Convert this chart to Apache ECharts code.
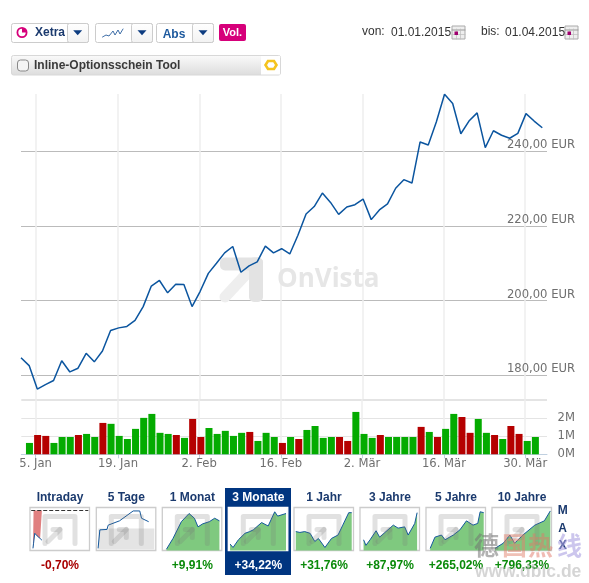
<!DOCTYPE html>
<html>
<head>
<meta charset="utf-8">
<style>html,body{margin:0;padding:0;background:#fff}#chart{width:589px;height:583px}</style>
<script src="https://cdn.jsdelivr.net/npm/echarts@6/dist/echarts.min.js"></script>
</head>
<body>
<div id="chart"></div>
<script>
// Kursverlauf, ein Wert pro Handelstag
var prices = [184.7,182.6,176.3,177.5,178.6,183.9,180.9,181.9,185.9,183.6,186.5,192.0,192.7,193.1,194.7,198.4,203.9,205.4,202.1,204.4,204.3,198.4,202.5,207.3,210.0,212.8,214.5,207.6,209.3,210.4,214.6,212.8,213.9,212.5,217.5,223.2,225.2,228.8,226.3,223.1,225.1,225.7,227.2,221.7,224.3,225.9,230.1,232.4,231.5,242.5,241.7,247.9,255.3,252.8,244.7,248.1,250.3,241.0,245.5,244.3,243.5,244.8,250.1,248.1,246.3];
// Umsatz in Mio, ab dem zweiten Handelstag
var volumes = [0.63,1.07,1.02,0.63,0.96,0.96,1.07,1.13,0.96,1.74,1.69,1.02,0.85,1.41,2.02,2.24,1.19,1.13,1.07,0.91,1.96,0.96,1.46,1.13,1.30,1.02,1.19,1.24,0.74,1.19,0.96,0.63,0.96,0.85,1.35,1.57,0.91,0.96,0.96,0.74,2.35,1.13,0.91,1.07,0.96,0.96,0.96,0.96,1.52,1.24,0.96,1.41,2.24,2.07,1.19,1.96,1.19,1.07,0.85,1.57,1.13,0.74,0.96];
// 1 = gruen, 0 = rot
var volUp = [1,0,0,1,1,1,0,1,1,0,1,1,1,1,1,1,1,1,0,1,0,0,1,1,1,1,1,0,1,1,1,0,1,0,1,1,1,1,0,0,1,1,1,0,1,1,1,1,0,1,0,1,1,0,0,1,1,0,1,0,0,1,1];
var tickLabels = ['5. Jan','19. Jan','2. Feb','16. Feb','2. Mär','16. Mär','30. Mär'];
var tickPos = [1.8,11.9,21.9,31.9,41.9,51.9,61.9];
var volTickPos = [1.75,11.85,21.8,31.8,41.75,51.8,61.75];
var priceTicks = [180,200,220,240];

var thumbNames = ['Intraday','5 Tage','1 Monat','3 Monate','1 Jahr','3 Jahre','5 Jahre','10 Jahre'];
var thumbChanges = ['-0,70%','+9,91%','+34,22%','+31,76%','+87,97%','+265,02%','+796,33%'];
thumbChanges.splice(1,0,'');
// [Zeit %, Niveau %] der Mini-Charts
var thumbIntraday = [[5,5],[6,17],[8,40],[12,34],[17,28],[20,24]];
var thumb5T = [[3,5],[6,48],[18,49],[20,59],[39,69],[62,92],[73,92],[76,75],[88,67]];
var thumb1M = [[7,3],[18,28],[32,67],[45,86],[54,75],[60,55],[68,62],[79,67],[88,75],[96,69]];
var thumb3M = [[3,15],[8,7],[17,25],[28,40],[36,44],[42,48],[56,65],[67,57],[78,90],[83,80],[97,86]];
var thumb1J = [[3,44],[10,42],[18,44],[27,40],[35,21],[41,28],[52,7],[63,28],[74,36],[82,59],[92,88],[97,88]];
var thumb3J = [[6,25],[10,12],[17,25],[27,46],[33,31],[42,42],[56,59],[64,52],[75,55],[81,36],[92,63],[96,88]];
var thumb5J = [[7,5],[15,31],[26,36],[32,25],[46,36],[57,48],[68,69],[79,59],[87,63],[91,90],[97,88]];
var thumb10J = [[5,5],[19,17],[30,36],[38,17],[52,36],[72,59],[88,69],[98,92]];
var thumbData = [thumbIntraday,thumb5T,thumb1M,thumb3M,thumb1J,thumb3J,thumb5J,thumb10J];
var thumbLeft = [30,96.3,162.3,228.3,294,360,426,492];

var myChart = echarts.init(document.getElementById('chart'));
var font = '"Liberation Sans", Arial, sans-serif';
var axisFont = '"DejaVu Sans", Verdana, sans-serif';
var navy = '#1b3a6e', LEFT = 21, W = 526;

function txt(s,x,y,size,color,bold,align,z,family){
	return {type:'text',z:z||5,style:{text:s,x:x,y:y,fill:color,align:align||'left',verticalAlign:'middle',
		font:(bold?'bold ':'')+size+'px '+(family||font)}};
}
function box(x,y,w,h,fill,stroke,r,z){
	return {type:'rect',z:z||4,shape:{x:x,y:y,width:w,height:h,r:r||0},style:{fill:fill,stroke:stroke,lineWidth:1}};
}
function tri(cx,cy){
	return {type:'polygon',z:5,shape:{points:[[cx-4.5,cy-2.3],[cx+4.5,cy-2.3],[cx,cy+2.7]]},style:{fill:'#0d3c80'}};
}
function stroke(points,color,w,z){
	return {type:'polyline',z:z||5,shape:{points:points},style:{stroke:color,lineWidth:w,fill:null,lineCap:'round',lineJoin:'round'}};
}
function calendar(x,y){
	var g=[box(x,y,13,13,'#eee','#aaa')];
	g.push(stroke([[x,y+4],[x+13,y+4]],'#999',1));
	g.push(stroke([[x,y+8.5],[x+13,y+8.5]],'#bbb',0.7));
	g.push(stroke([[x+4.5,y+3],[x+4.5,y+13]],'#bbb',0.7));
	g.push(stroke([[x+8.5,y+3],[x+8.5,y+13]],'#bbb',0.7));
	g.push({type:'rect',z:6,shape:{x:x+2.5,y:y+5.5,width:3.5,height:3.5},style:{fill:'#a0006e'}});
	return g;
}

var btnGrad = new echarts.graphic.LinearGradient(0,0,0,1,[{offset:0,color:'#fff'},{offset:1,color:'#f2f2f2'}]);
var barGrad = new echarts.graphic.LinearGradient(0,0,0,1,[{offset:0,color:'#fbfbfb'},{offset:1,color:'#dcdcdc'}]);
var graphics = [
	// Kopfzeile
	box(11.5,23.5,77,19,'#fff','#ccc',2),
	box(67.5,23.5,21,19,btnGrad,'#ccc',2),
	{type:'arc',z:5,shape:{cx:22,cy:32.5,r:4.6},style:{stroke:'#d6007a',lineWidth:1.8,fill:null}},
	{type:'sector',z:5,shape:{cx:22,cy:32.5,r:4.6,r0:0,startAngle:-Math.PI/2,endAngle:0},style:{fill:'#d6007a'}},
	txt('Xetra',35,33,12,navy,true),
	tri(77.7,32.5),
	box(95.5,23.5,57,19,'#fff','#ccc',2),
	box(131.5,23.5,21,19,btnGrad,'#ccc',2),
	stroke([[102.5,37],[106,35],[109,36],[113,31],[115,35],[118,30],[120,34],[123,29]],'#2a5f9e',0.9),
	tri(142,32.5),
	box(156.5,23.5,57,19,'#fff','#ccc',2),
	box(192.5,23.5,21,19,btnGrad,'#ccc',2),
	txt('Abs',174,35,12,'#1e5a9e',true,'center'),
	tri(203,32.5),
	box(219,24,27,17,'#d6007a',null,2),
	txt('Vol.',232.5,32.5,11,'#fff',true,'center'),
	box(11.5,55.5,269,19.5,barGrad,'#d8d8d8',2),
	box(261,56,19,18.5,'#fff',null),
	box(17.5,60,11,11,'#f4f4f4','#888',3),
	txt('Inline-Optionsschein Tool',34,65.5,12,'#3a3a3a',true),
	{type:'polygon',z:5,shape:{points:[[268,61],[274,61],[276.5,65],[274,69],[268,69],[265.5,65]]},style:{fill:null,stroke:'#f5c41e',lineWidth:2.6}},
	txt('von:',362,32,12,'#333'),
	txt('01.01.2015',391,32.5,12,'#333'),
	txt('bis:',481,32,12,'#333'),
	txt('01.04.2015',505,32.5,12,'#333'),
	// OnVista Wasserzeichen
	{type:'line',z:1,shape:{x1:225,y1:297,x2:252,y2:268},style:{stroke:'#eeeeee',lineWidth:11,lineCap:'round'}},
	{type:'rect',z:1,shape:{x:220,y:257.5,width:43,height:13,r:5},style:{fill:'#e3e3e3'}},
	{type:'rect',z:1,shape:{x:249,y:257.5,width:14,height:44.5,r:5},style:{fill:'#e3e3e3'}},
	txt('OnVista',277,280,26,'#e6e6e6',true,'left',1,'"Open Sans", sans-serif'),
	// Auswahl 3 Monate
	box(225,488,66,87,'#003580',null,0,2),
	txt('M',562.7,510.7,12,navy,true,'center'),
	txt('A',562.7,528.3,12,navy,true,'center'),
	txt('X',562.7,546,12,navy,true,'center'),
	// Fremdes Wasserzeichen unten rechts
	txt('德',486.5,545.5,25,'rgba(115,115,115,0.55)',true,'center',9,'"Noto Sans CJK SC"'),
	txt('国',514.5,545.5,25,'rgba(225,130,110,0.5)',true,'center',9,'"Noto Sans CJK SC"'),
	txt('热',540.5,545.5,25,'rgba(225,120,105,0.5)',true,'center',9,'"Noto Sans CJK SC"'),
	txt('线',569.5,545.5,25,'rgba(170,160,225,0.6)',true,'center',9,'"Noto Sans CJK SC"'),
	txt('www.dbic.de',475,572,17.5,'rgba(185,185,185,0.6)',true,'left',9)
].concat(calendar(452,26),calendar(565,26));

var grids = [
	{left:LEFT,top:94,width:W,height:305},
	{left:LEFT+0.3,top:399.3,width:W-0.3,height:55}
];
var xAxes = [
	{gridIndex:0,type:'value',min:0,max:W/8.145,axisLine:{show:false},axisLabel:{show:false},
		axisTick:{show:false,customValues:tickPos},splitLine:{show:true,lineStyle:{color:'#eeeeee',width:1.5}}},
	{gridIndex:1,type:'value',min:0,max:(W-0.3)/8.16,axisLine:{show:true,onZero:false,lineStyle:{color:'#c0d0e0'}},
		axisTick:{show:true,length:4,customValues:volTickPos,lineStyle:{color:'#c0d0e0'}},
		axisLabel:{show:true,customValues:volTickPos,margin:4,color:'#6f6f6f',fontSize:11.6,fontFamily:axisFont,
			formatter:function(v){return tickLabels[volTickPos.indexOf(v)];}},
		splitLine:{show:true,lineStyle:{color:'#eeeeee',width:1.5}}}
];
var yAxes = [
	{gridIndex:0,type:'value',position:'right',min:173.65,max:255.35,axisLine:{show:false},
		axisTick:{show:false,customValues:priceTicks},
		axisLabel:{show:true,customValues:priceTicks,align:'right',verticalAlign:'bottom',margin:28,color:'#6f6f6f',fontSize:11.6,fontFamily:axisFont,
			formatter:function(v){return v.toFixed(2).replace('.',',')+' EUR';}},
		splitLine:{show:true,lineStyle:{color:'#bbbbbb'}}},
	{gridIndex:1,type:'value',position:'right',min:0,max:3.05,interval:1,axisLine:{show:false},axisTick:{show:false},
		axisLabel:{align:'right',margin:28,color:'#6f6f6f',fontSize:11.6,fontFamily:axisFont,padding:[0,0,5,0],
			formatter:function(v){return v>2?'':v+'M';}},
		splitLine:{show:true,lineStyle:{color:'#e4e4e4'}}}
];

var series = [
	{type:'line',xAxisIndex:0,yAxisIndex:0,z:4,showSymbol:false,clip:false,lineStyle:{color:'#0b559f',width:1.5},
		data:prices.map(function(v,i){return [i,v];})},
	{type:'bar',xAxisIndex:1,yAxisIndex:1,barWidth:7,
		data:volumes.map(function(v,i){
			return {value:[i+1,v],itemStyle:{color:volUp[i]?'#04ab00':'#b50000'}};
		})}
];

// Mini-Charts
thumbNames.forEach(function(name,i){
	var x=thumbLeft[i], y=507.5, sel=(i==3);
	var idx=grids.length;
	grids.push({left:x,top:y,width:59.5,height:43,show:true,backgroundColor:'#fff',borderColor:sel?'#fff':'#ccc',borderWidth:1.3,z:3});
	xAxes.push({gridIndex:idx,type:'value',min:0,max:100,show:false});
	yAxes.push({gridIndex:idx,type:'value',min:0,max:100,interval:25,axisLine:{show:false},axisTick:{show:false},axisLabel:{show:false},
		splitLine:{show:true,lineStyle:{color:'#cccccc'}}});
	var area=null, areaOrigin='start';
	if(i==0){area='#e08080';areaOrigin=93;}
	if(i>=2){area='#7fc97f';}
	var ser={type:'line',xAxisIndex:idx,yAxisIndex:idx,z:4,showSymbol:false,lineStyle:{color:'#14589c',width:1},data:thumbData[i]};
	if(area) ser.areaStyle={color:area,opacity:1,origin:areaOrigin};
	series.push(ser);
	if(i==0){
		series.push({type:'line',xAxisIndex:idx,yAxisIndex:idx,z:4,showSymbol:false,lineStyle:{color:'#333',width:1,type:'dashed'},data:[[2,93],[98,93]]});
	}
	if(i==1){
		graphics.push({type:'rect',z:3,shape:{x:x+2,y:y+21,width:56,height:21},style:{fill:'#e4e4e4'}});
	}
	// Logo im Mini-Chart
	var lc='rgba(120,120,120,0.22)';
	graphics.push(stroke([[x+15,y+36],[x+15,y+9],[x+45,y+9],[x+45,y+36]],lc,5,6));
	graphics.push(stroke([[x+18,y+34],[x+30,y+22]],lc,5,6));
	graphics.push(stroke([[x+23,y+22],[x+30,y+22],[x+30,y+30]],lc,5,6));
	graphics.push(txt(name,x+30,497.7,12,sel?'#fff':navy,true,'center'));
	if(thumbChanges[i]){
		var c=sel?'#fff':(i==0?'#a80000':'#0a8a0a');
		graphics.push(txt(thumbChanges[i],x+30,565.3,12,c,true,'center'));
	}
});

var option = {
	animation:false,
	backgroundColor:'#fff',
	grid:grids,
	xAxis:xAxes,
	yAxis:yAxes,
	series:series,
	graphic:graphics
};
myChart.setOption(option);
</script>
</body>
</html>
